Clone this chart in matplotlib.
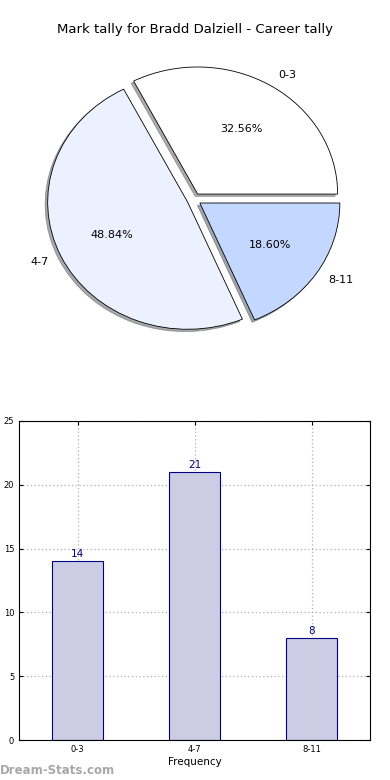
import matplotlib
matplotlib.use("Agg")
import matplotlib.pyplot as plt

player = "Bradd Dalziell"
categories = ["0-3", "4-7", "8-11"]
counts = [14, 21, 8]
pie_colors = ["#ffffff", "#ebf1ff", "#c4d8ff"]

fig = plt.figure(figsize=(3.9, 7.8), dpi=100)

# pie, drawn old-style with an elliptical axes
ax1 = fig.add_axes([26 / 390, 428 / 780, 336 / 390, 305 / 780])
wedges, texts, autotexts = ax1.pie(counts, labels=categories, colors=pie_colors,
                                   explode=[0.05] * len(counts),
                                   shadow=dict(ox=-0.013, oy=-0.013, shade=0.65),
                                   autopct="%1.2f%%", startangle=0,
                                   wedgeprops=dict(edgecolor="black", linewidth=0.6),
                                   textprops=dict(fontsize=8))
ax1.set_aspect("auto")
ax1.set_xlim(-1.2, 1.2)
ax1.set_ylim(-1.2, 1.2)
fig.text(0.5, 1 - 30 / 780, f"Mark tally for {player} - Career tally",
         ha="center", va="center", fontsize=9.5)

# bar chart
ax2 = fig.add_axes([19 / 390, 40 / 780, 351 / 390, 319 / 780])
x = list(range(len(categories)))
ax2.bar(x, counts, width=0.44, color="#ccccE5", edgecolor="navy", linewidth=0.8, zorder=2)
for xi, c in zip(x, counts):
    ax2.text(xi, c + 0.15, str(c), ha="center", va="bottom", color="navy", fontsize=7.5)
ax2.set_xlim(-0.5, 2.5)
ax2.set_ylim(0, 25)
ax2.set_yticks([0, 5, 10, 15, 20, 25])
ax2.set_xticks(x)
ax2.set_xticklabels(categories)
ax2.tick_params(labelsize=6, direction="in", top=True, right=True, length=3)
ax2.grid(True, linestyle=(0, (1, 2)), color="#b0b0b0", linewidth=0.9, zorder=0)
ax2.set_axisbelow(True)
ax2.set_xlabel("Frequency", fontsize=7.5, labelpad=2)
ax2.set_ylabel("Occurrences", fontsize=7.5)
ax2.yaxis.set_label_coords(-0.05, 0.5)

fig.text(0.0, 1 - 771 / 780, "Dream-Stats.com", ha="left", va="center",
         fontsize=8.5, color="#a8a8a8", fontweight="bold")

fig.savefig("out.png", dpi=100)
